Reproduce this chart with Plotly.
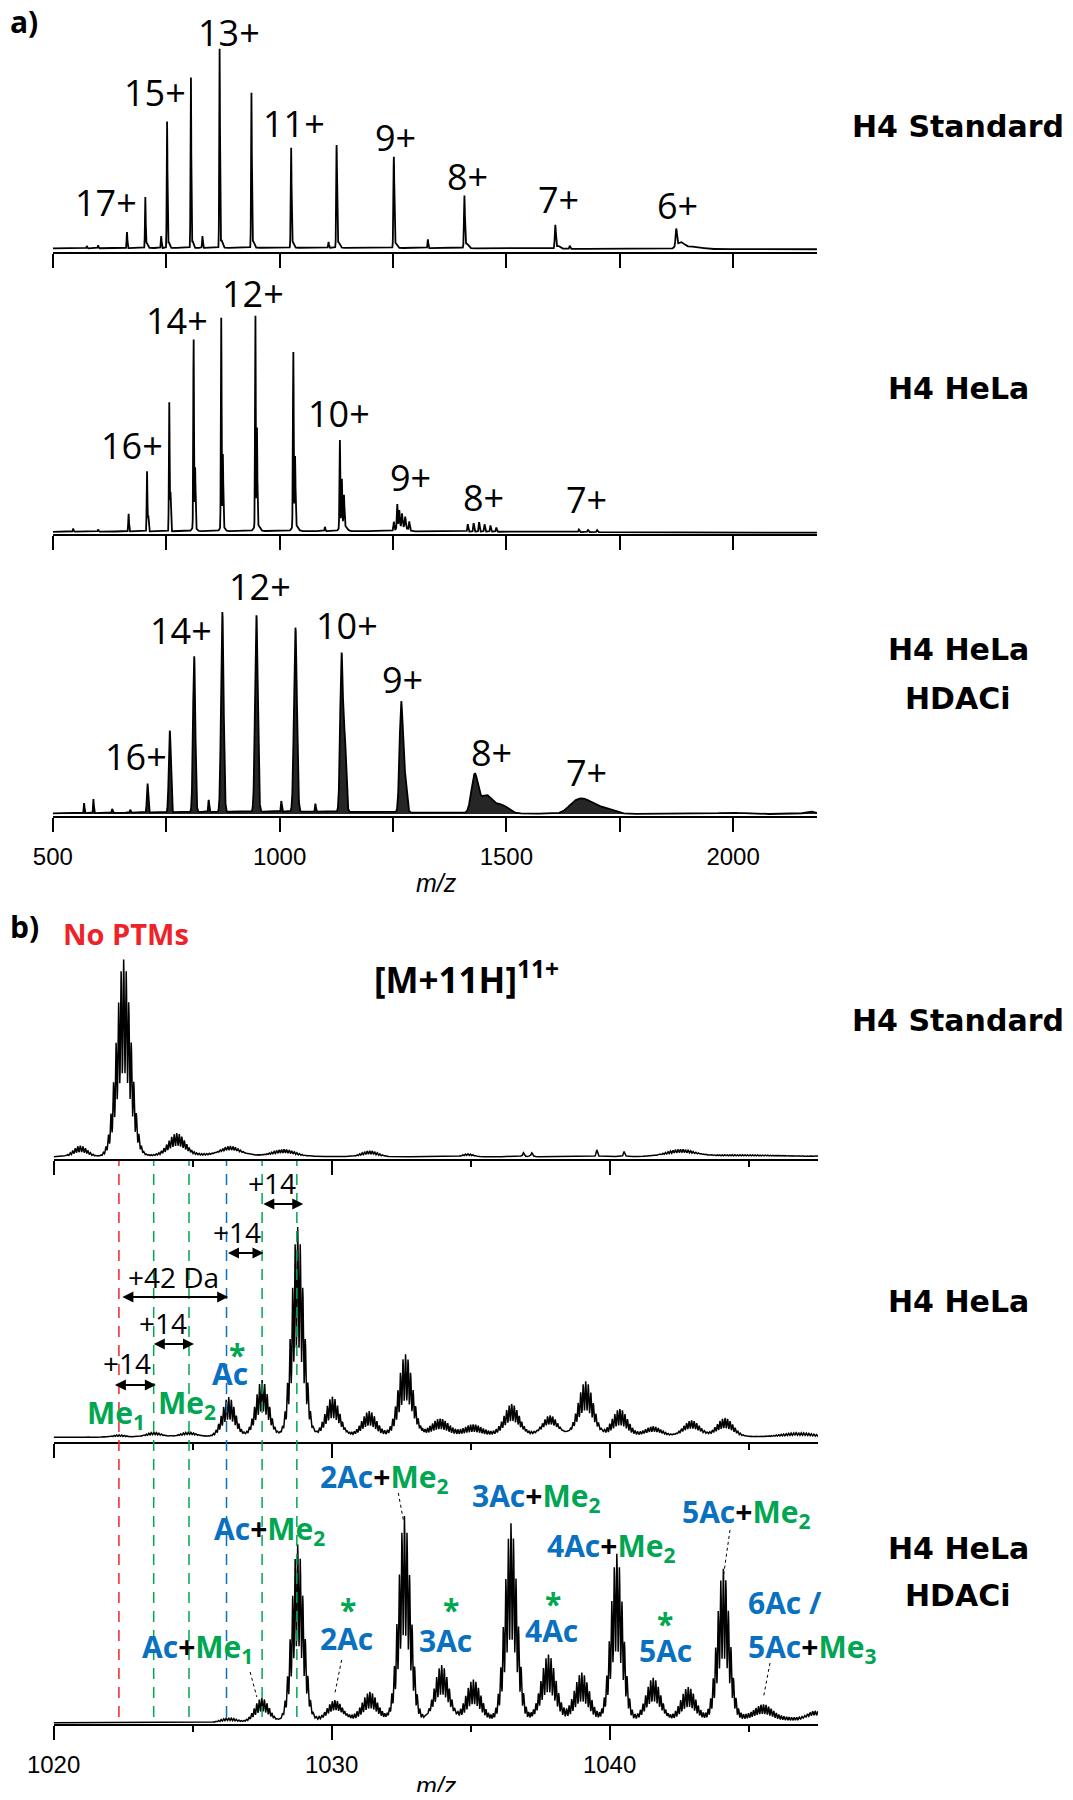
import numpy as np
import plotly.graph_objects as go

# ---------- panel a: whole charge-state series ----------
# peak m/z, intensity (% of tallest peak in the trace), peak width (sigma, m/z)
A_STD_MZ = [575, 600, 663.6, 704.0, 707.5, 739.0, 752.0, 755.5, 804.5, 808.0, 830.0,
            867.8, 871.5, 938.0, 941.5, 1025.5, 1029.0, 1108.0, 1125.8, 1129.5,
            1252.0, 1256.0, 1327.0, 1407.6, 1412.0, 1608.0, 1614.0, 1640.0,
            1874.6, 1884.0, 1910.0, 1000.0]
A_STD_INT = [1.2, 1.5, 8.2, 25.5, 2.5, 6.0, 63.8, 3.0, 86.7, 3.5, 6.0,
             100.0, 4.0, 77.6, 3.5, 50.0, 3.0, 3.0, 51.0, 3.0,
             45.4, 2.5, 4.4, 25.5, 2.5, 11.7, 1.5, 1.5,
             8.7, 3.0, 1.2, 0.8]
A_STD_W = [0.8, 0.8, 0.8, 0.8, 2.0, 0.8, 0.8, 2.0, 0.8, 2.0, 0.8,
           0.8, 2.5, 0.8, 2.5, 0.9, 2.5, 0.8, 0.9, 3.0,
           1.0, 3.0, 0.8, 1.0, 4.0, 1.2, 4.0, 1.0,
           1.5, 8.0, 20.0, 450.0]

A_HELA_MZ = [545, 600, 667.2, 707.8, 710.5, 756.8, 759.5, 810.5, 813.8, 871.4, 875.0,
             946.7, 950.2, 1030.3, 1034.2, 1100.0, 1133.0, 1137.3, 1142.0,
             1252.0, 1259.6, 1264.0, 1270.0, 1277.0, 1286.0,
             1415.0, 1428.0, 1440.0, 1452.0, 1465.0, 1478.0, 1660.0, 1680.0, 1700.0,
             812.0, 874.0, 950.0, 1034.0, 1140.0, 1270.0, 1000.0]
A_HELA_INT = [1.5, 1.0, 8.4, 28.4, 8.0, 61.1, 18.6, 89.2, 28.0, 98.7, 33.6,
              100.0, 45.5, 82.6, 32.0, 2.0, 41.4, 21.8, 13.9,
              4.0, 11.5, 8.0, 6.0, 5.0, 4.0,
              3.5, 4.0, 4.5, 3.5, 3.0, 2.0, 1.2, 1.2, 1.0,
              2.5, 3.0, 3.5, 3.5, 3.5, 2.5, 0.8]
A_HELA_W = [0.8, 0.8, 0.8, 0.8, 0.8, 0.8, 0.8, 0.8, 0.8, 0.8, 0.8,
            0.8, 0.8, 0.9, 0.9, 0.8, 0.9, 0.9, 0.9,
            1.0, 1.0, 1.0, 1.0, 1.0, 1.0,
            1.0, 1.0, 1.0, 1.0, 1.0, 1.0, 1.2, 1.2, 1.2,
            4.0, 4.0, 5.0, 5.0, 6.0, 10.0, 450.0]

A_HDAC_MZ = [569.0, 589.6, 631.0, 670.8, 709.0, 758.0, 811.7, 843.8, 873.8, 949.0, 1004.0,
             1035.0, 1079.0, 1136.6, 1144.0, 1268.0, 1276.0, 1430.0, 1455.0, 1490.0,
             1648.0, 1672.0, 1712.0, 1995.0, 2170.0, 1000.0]
A_HDAC_INT = [5.0, 7.0, 2.0, 1.5, 14.5, 40.9, 78.0, 6.0, 100.0, 98.3, 5.3,
              92.1, 4.0, 78.0, 35.0, 53.0, 18.0, 17.9, 9.0, 4.0,
              3.5, 6.0, 3.0, 0.7, 1.2, 1.2]
A_HDAC_W = [0.8, 0.8, 1.0, 1.0, 1.5, 2.2, 2.5, 1.0, 2.8, 3.0, 1.0,
            3.2, 1.0, 3.0, 3.0, 3.5, 4.0, 7.0, 14.0, 14.0,
            15.0, 18.0, 22.0, 25.0, 12.0, 300.0]

A_STD_CHARGES = ["17+", "15+", "13+", "11+", "9+", "8+", "7+", "6+"]
A_STD_LABEL_MZ = [617, 724.5, 888, 1032.7, 1256, 1413.6, 1614, 1877]
A_HELA_CHARGES = ["16+", "14+", "12+", "10+", "9+", "8+", "7+"]
A_HELA_LABEL_MZ = [673.8, 772.9, 942.5, 1131.2, 1287.6, 1448.8, 1677]
A_HDAC_CHARGES = ["16+", "14+", "12+", "10+", "9+", "8+", "7+"]
A_HDAC_LABEL_MZ = [682.7, 781.9, 957.4, 1148.5, 1270.9, 1468, 1677]

A_TICKS = [500, 750, 1000, 1250, 1500, 1750, 2000]
A_TICK_TEXT = ["500", "", "1000", "", "1500", "", "2000"]

# ---------- panel b: [M+11H]11+ zoom ----------
B_STD_MZ = [1020.96, 1022.52, 1024.43, 1026.36, 1028.29, 1031.37, 1034.9, 1036.9, 1037.2,
            1039.54, 1040.52, 1042.55, 1025.5, 1044.5]
B_STD_INT = [5.5, 100.0, 11.0, 4.8, 3.4, 3.0, 1.5, 2.0, 2.0, 3.5, 2.5, 3.5, 1.5, 1.0]
B_STD_W = [0.25, 0.26, 0.3, 0.35, 0.4, 0.3, 0.2, 0.05, 0.05, 0.04, 0.04, 0.5, 2.0, 2.0]

B_HELA_MZ = [1022.35, 1023.6, 1024.85, 1026.3, 1027.5, 1028.78, 1030.03, 1031.35, 1032.66,
             1033.9, 1035.09, 1036.48, 1037.86, 1039.14, 1040.37, 1041.57, 1042.95, 1044.15,
             1046.8, 1035.0]
B_HELA_INT = [1.0, 2.2, 2.2, 18.8, 27.0, 100.0, 18.5, 10.8, 38.2,
              6.7, 3.8, 14.4, 9.6, 26.0, 12.0, 4.3, 7.7, 8.9,
              2.0, 2.5]
B_HELA_W = [0.25, 0.3, 0.3, 0.24, 0.24, 0.22, 0.25, 0.25, 0.25,
            0.3, 0.3, 0.27, 0.27, 0.27, 0.27, 0.3, 0.3, 0.3,
            0.6, 6.0]

B_HDAC_MZ = [1026.3, 1027.49, 1028.78, 1030.12, 1031.38, 1032.62, 1033.96, 1035.1, 1036.45,
             1037.8, 1039.0, 1040.26, 1041.57, 1042.83, 1044.09, 1045.53, 1047.4,
             1031.0, 1038.0, 1045.0]
B_HDAC_INT = [2.3, 11.9, 87.6, 9.5, 12.5, 100.0, 27.5, 19.0, 96.0,
              31.0, 21.5, 81.2, 20.5, 15.0, 72.9, 6.0, 5.0,
              3.0, 3.5, 3.5]
B_HDAC_W = [0.3, 0.26, 0.22, 0.26, 0.26, 0.22, 0.26, 0.26, 0.22,
            0.26, 0.26, 0.22, 0.26, 0.26, 0.22, 0.3, 0.3,
            2.0, 3.0, 2.0]

B_DASH_MZ = [1022.35, 1023.6, 1024.87, 1026.22, 1027.5, 1028.75]
B_DASH_KIND = ["none", "me", "me", "ac", "me", "me"]

B_SHIFTS = [(1027.49, 1028.98, "+14"), (1026.22, 1027.55, "+14"),
            (1022.42, 1026.28, "+42 Da"), (1023.55, 1025.05, "+14"),
            (1022.15, 1023.68, "+14")]

RED, GREEN, BLUE = "#EE2329", "#00A651", "#0A70C0"
KIND_COLOR = {"none": RED, "me": GREEN, "ac": BLUE}

# page geometry: the page keeps an 8 px body margin, figure sized so nothing overflows
OFF, W, H = 8, 1057, 1784


def px_x(p):
    return (p - OFF) / W


def px_y(p):
    return 1 - (p - OFF) / H


def peak_sum(x, mz, inten, width):
    y = np.zeros_like(x)
    for c, h, w in zip(mz, inten, width):
        y += h * np.exp(-0.5 * ((x - c) / w) ** 2)
    return y


def isotope_sum(x, mz, inten, width, z=11, line_w=0.026):
    # each envelope drawn as its 1/z-spaced isotope lines
    y = np.zeros_like(x)
    for c, h, w in zip(mz, inten, width):
        n = int(np.ceil(3.5 * w * z))
        for k in range(-n, n + 1):
            xi = c + k / z
            amp = h * np.exp(-0.5 * ((xi - c) / w) ** 2)
            sel = np.abs(x - xi) < 6 * line_w
            y[sel] += amp * np.exp(-0.5 * ((x[sel] - xi) / line_w) ** 2)
    return y


xa = np.arange(500, 2185, 0.2)
xb = np.arange(1020, 1047.5, 0.004)

# subplot: axis line px, baseline px, 100% px, domain top px (page pixels)
GEOM = {
    1: (251.5, 249.3, 53.0, 45.0),
    2: (534.0, 532.7, 321.7, 280.0),
    3: (815.7, 814.0, 614.3, 560.0),
    4: (1159.3, 1156.7, 961.0, 950.0),
    5: (1442.3, 1437.5, 1229.3, 1165.0),
    6: (1724.0, 1722.8, 1521.7, 1450.0),
}

fig = go.Figure()

traces = [
    (1, xa, peak_sum(xa, A_STD_MZ, A_STD_INT, A_STD_W), False),
    (2, xa, peak_sum(xa, A_HELA_MZ, A_HELA_INT, A_HELA_W), False),
    (3, xa, peak_sum(xa, A_HDAC_MZ, A_HDAC_INT, A_HDAC_W), True),
    (4, xb, isotope_sum(xb, B_STD_MZ, B_STD_INT, B_STD_W), False),
    (5, xb, isotope_sum(xb, B_HELA_MZ, B_HELA_INT, B_HELA_W), False),
    (6, xb, isotope_sum(xb, B_HDAC_MZ, B_HDAC_INT, B_HDAC_W), False),
]
for i, x, y, filled in traces:
    sfx = "" if i == 1 else str(i)
    fig.add_trace(go.Scatter(
        x=x, y=y, xaxis="x" + sfx, yaxis="y" + sfx, mode="lines",
        line=dict(color="black", width=1.8 if i <= 3 else 1.5),
        fill="tozeroy" if filled else None,
        fillcolor="rgba(0,0,0,0.85)",
        showlegend=False, hoverinfo="skip",
    ))

tick_font = dict(family="Liberation Sans, Arial, sans-serif", size=24, color="black")
layout = {}
for i, (axis_px, base_px, peak_px, top_px) in GEOM.items():
    sfx = "" if i == 1 else str(i)
    scale = (base_px - peak_px) / 100.0
    layout["yaxis" + sfx] = dict(
        domain=[px_y(axis_px), px_y(top_px)],
        range=[-(axis_px - base_px) / scale, (base_px - top_px) / scale],
        visible=False, fixedrange=True, automargin=False,
    )
    xax = dict(
        anchor="y" + sfx, showline=True, linecolor="black", linewidth=2,
        ticks="outside", ticklen=14, tickwidth=1.5, tickcolor="black",
        showgrid=False, zeroline=False, tickfont=tick_font, automargin=False,
        showticklabels=i in (3, 6), ticklabelstandoff=4,
    )
    if i <= 3:
        xax.update(domain=[px_x(52.8), px_x(817)], range=[500, 2185],
                   tickmode="array", tickvals=A_TICKS, ticktext=A_TICK_TEXT)
    else:
        xax.update(domain=[px_x(53.6), px_x(818.1)], range=[1020, 1047.5],
                   tickmode="linear", tick0=1020, dtick=10,
                   minor=dict(ticks="outside", ticklen=6, tickwidth=1.5,
                              tickcolor="black", tick0=1020, dtick=5))
    layout["xaxis" + sfx] = xax

ann = []


def text(t, x, ypx, xref="paper", size=28, color="black", bold=False,
         family="Open Sans", xanchor="center"):
    ann.append(dict(
        text=t, x=x if xref != "paper" else px_x(x), y=px_y(ypx),
        xref=xref, yref="paper", showarrow=False, xanchor=xanchor, yanchor="middle",
        font=dict(family=family, size=size, color=color,
                  weight="bold" if bold else "normal"),
    ))


# panel a charge-state labels
for ref, labels, mzs, ys in [
    ("x", A_STD_CHARGES, A_STD_LABEL_MZ, [203, 92, 33, 124, 137, 177, 200, 205]),
    ("x2", A_HELA_CHARGES, A_HELA_LABEL_MZ, [445, 320, 293, 413, 477, 497, 499]),
    ("x3", A_HDAC_CHARGES, A_HDAC_LABEL_MZ, [756, 630, 586, 625, 679, 752, 772]),
]:
    for lab, mz, ypx in zip(labels, mzs, ys):
        text(lab, mz, ypx, xref=ref, size=36)

# sample names
side = dict(family="DejaVu Sans", size=30, bold=True)
for t, ypx in [("H4 Standard", 126), ("H4 HeLa", 388), ("H4 HeLa", 649), ("HDACi", 698),
               ("H4 Standard", 1020), ("H4 HeLa", 1301), ("H4 HeLa", 1548), ("HDACi", 1595)]:
    text(t, 958, ypx, **side)

text("a)", 8, 21, size=30, bold=True, xanchor="left")
text("b)", 8, 926, size=30, bold=True, xanchor="left")
text("<i>m/z</i>", 436, 883, size=25, family="Liberation Sans")
text("<i>m/z</i>", 436, 1786, size=25, family="Liberation Sans")
text("No PTMs", 126, 933, size=29, bold=True, color=RED)
text("[M+11H]<sup>11+</sup>", 466, 977, size=35, bold=True)

# +14 / +42 arrows in the HeLa trace
for (m0, m1, lab), ypx, (lx, ly) in zip(
        B_SHIFTS, [1204, 1253, 1297, 1344, 1385],
        [(1027.87, 1183), (1026.58, 1232), (1024.33, 1277), (1023.95, 1323), (1022.63, 1363)]):
    ann.append(dict(
        x=m1, y=px_y(ypx), xref="x5", yref="paper", ax=m0, ay=0, axref="x5", ayref="pixel",
        text="", showarrow=True, arrowside="end+start", arrowhead=2, startarrowhead=2,
        arrowsize=1, startarrowsize=1, arrowwidth=2.2, arrowcolor="black",
        standoff=0, startstandoff=0,
    ))
    text(lab, lx, ly, xref="x5", size=28)


def combo(ac, me):
    return (f'<span style="color:{BLUE}">{ac}</span>+'
            f'<span style="color:{GREEN}">Me<sub>{me}</sub></span>')


bold = dict(size=30, bold=True)
text("Me<sub>1</sub>", 1022.24, 1414, xref="x5", color=GREEN, **bold)
text("Me<sub>2</sub>", 1024.79, 1404, xref="x5", color=GREEN, **bold)
text("Ac", 1026.35, 1373, xref="x5", color=BLUE, **bold)
text("*", 1026.59, 1354, xref="x5", color=GREEN, **bold)

text(combo("Ac", 2), 1027.75, 1530, xref="x6", **bold)
text(combo("Ac", 1), 1025.18, 1648, xref="x6", **bold)
text(combo("2Ac", 2), 1031.87, 1478, xref="x6", **bold)
text(combo("3Ac", 2), 1037.37, 1497, xref="x6", **bold)
text(combo("4Ac", 2), 1040.04, 1547, xref="x6", **bold)
text(combo("5Ac", 2), 1044.9, 1513, xref="x6", **bold)
for mz_star, y_star, mz_lab, y_lab, lab in [
        (1030.6, 1609, 1030.54, 1638, "2Ac"), (1034.28, 1609, 1034.1, 1640, "3Ac"),
        (1037.98, 1603, 1037.92, 1630, "4Ac"), (1042.0, 1623, 1042.02, 1650, "5Ac")]:
    text("*", mz_star, y_star, xref="x6", color=GREEN, **bold)
    text(lab, mz_lab, y_lab, xref="x6", color=BLUE, **bold)
text("6Ac /", 1044.92, 1602, xref="x6", color=BLUE, xanchor="left", **bold)
text(combo("5Ac", 3), 1044.92, 1648, xref="x6", xanchor="left", **bold)

shapes = []
for mz, kind in zip(B_DASH_MZ, B_DASH_KIND):
    shapes.append(dict(type="line", xref="x5", yref="paper", x0=mz, x1=mz,
                       y0=px_y(1717), y1=px_y(1161),
                       line=dict(color=KIND_COLOR[kind], width=1.5, dash="11px,8px")))
# dotted leaders from labels to their peaks
for m0, y0, m1, y1 in [(1027.07, 1672, 1027.31, 1697), (1030.36, 1660, 1030.12, 1693),
                       (1032.4, 1493, 1032.58, 1520), (1044.33, 1530, 1044.09, 1577),
                       (1045.77, 1663, 1045.53, 1698)]:
    shapes.append(dict(type="line", xref="x6", yref="paper", x0=m0, x1=m1,
                       y0=px_y(y0), y1=px_y(y1),
                       line=dict(color="black", width=1, dash="dot")))

fig.update_layout(
    template="none",
    width=W, height=H, autosize=False,
    margin=dict(l=0, r=0, t=0, b=0, pad=0, autoexpand=False),
    paper_bgcolor="white", plot_bgcolor="white",
    annotations=ann, shapes=shapes, showlegend=False,
    **layout,
)

fig.write_html("out.html")
